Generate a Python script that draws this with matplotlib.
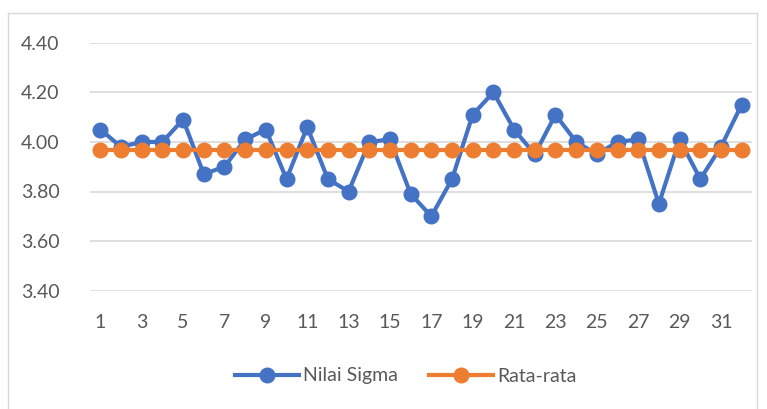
import matplotlib as mpl
import matplotlib.pyplot as plt
from matplotlib.lines import Line2D

# data
periode = list(range(1, 33))
nilai_sigma = [4.05, 3.98, 4.00, 4.00, 4.09, 3.87, 3.90, 4.01, 4.05, 3.85,
               4.06, 3.85, 3.80, 4.00, 4.01, 3.79, 3.70, 3.85, 4.11, 4.20,
               4.05, 3.95, 4.11, 4.00, 3.95, 4.00, 4.01, 3.75, 4.01, 3.85,
               3.98, 4.15]
rata_rata = [3.968] * 32
y_ticks = [3.40, 3.60, 3.80, 4.00, 4.20, 4.40]

dpi = 100
fig = plt.figure(dpi=dpi, figsize=(767 / dpi, 409 / dpi))
mpl.rcParams.update({'font.size': 14, 'font.family': ['Lato', 'DejaVu Sans']})

W, H = 767, 409
ax = fig.add_axes([90 / W, 1 - 290.7 / H, (752 - 90) / W, (290.7 - 42.7) / H])

ax.plot(periode, nilai_sigma, color='#4472C4', lw=3.0, marker='o', ms=10.5,
        label='Nilai Sigma', zorder=3)
ax.plot(periode, rata_rata, color='#ED7D31', lw=3.0, marker='o', ms=10.5,
        label='Rata-rata', zorder=4)

ax.set_xlim(0.5, 32.5)
ax.set_ylim(3.40, 4.40)
ax.set_yticks(y_ticks)
ax.set_yticklabels(['%.2f' % v for v in y_ticks])
ax.set_xticks(periode[::2])
ax.grid(axis='y', color='#D9D9D9', lw=1.2)
ax.set_axisbelow(True)
for s in ax.spines.values():
    s.set_visible(False)
ax.tick_params(axis='both', length=0, colors='#595959', labelsize=14)
ax.tick_params(axis='y', pad=22)
ax.tick_params(axis='x', pad=17)

fig.legend(loc='center', bbox_to_anchor=(406 / W, 1 - 376 / H), ncol=2,
           frameon=False, handlelength=3.3, handletextpad=0.2,
           columnspacing=1.6, labelcolor='#595959', fontsize=14)

# outer chart border
bc = '#D9D9D9'
fig.add_artist(Line2D([8 / W, 8 / W], [0, 1 - 13 / H], color=bc, lw=1, transform=fig.transFigure))
fig.add_artist(Line2D([8 / W, 757 / W], [1 - 13 / H, 1 - 13 / H], color=bc, lw=1, transform=fig.transFigure))
fig.add_artist(Line2D([757 / W, 757 / W], [0, 1 - 13 / H], color=bc, lw=1, transform=fig.transFigure))

fig.savefig('out.png', dpi=dpi)
